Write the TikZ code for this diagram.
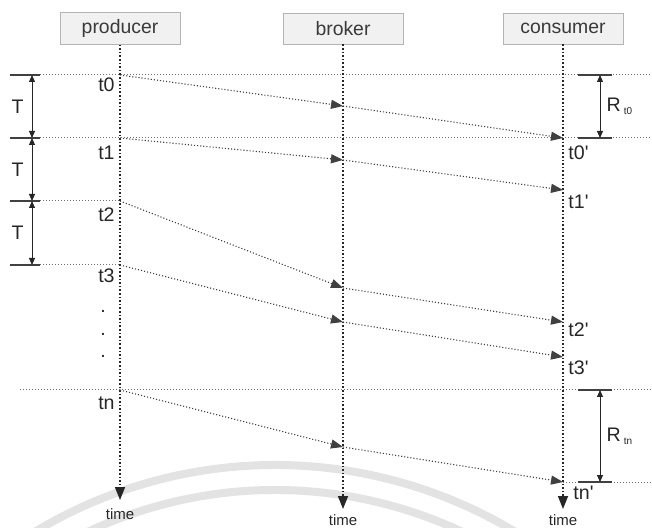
\documentclass[tikz,border=0pt]{standalone}
\usepackage{fontspec}
\setmainfont{Liberation Sans}
\usetikzlibrary{arrows.meta, positioning}
\definecolor{boxfill}{HTML}{F1F1F1}
\definecolor{boxline}{HTML}{B4B4B4}
\definecolor{inkgray}{HTML}{3A3A3A}
\tikzstyle{actor} = [rectangle, minimum width=60pt, minimum height=15.5pt, draw=boxline, fill=boxfill, text=inkgray, font=\fontsize{9.7}{11}\selectfont]
\tikzstyle{lifeline} = [densely dotted, line width=0.8pt, black!85, -{Triangle[length=6.5pt,width=5pt]}]
\tikzstyle{msg} = [densely dotted, line width=0.55pt, black!75, -{Triangle[length=6pt,width=4.5pt]}]
\tikzstyle{guide} = [densely dotted, line width=0.5pt, black!55]
\tikzstyle{tickline} = [line width=0.6pt, black!75]
\tikzstyle{span} = [line width=0.5pt, black!85, {Triangle[length=3.5pt,width=3pt]}-{Triangle[length=3.5pt,width=3pt]}]
\tikzstyle{stamp} = [font=\fontsize{9.8}{11}\selectfont, text=black!85, inner sep=0pt]
\tikzstyle{timelabel} = [font=\fontsize{7.5}{8}\selectfont, text=black!85, inner sep=0pt]
\tikzstyle{watermark} = [line width=4pt, gray!22]
\newcommand\subtext[1]{\,\raisebox{-1.5pt}{\fontsize{5}{6}\selectfont #1}}
\newcommand\pr{\textquotesingle}

\begin{document}
\begin{tikzpicture}[x=0.5pt, y=-0.5pt]
\useasboundingbox (0,0) rectangle (652,528);

% Watermark arcs
\begin{scope}
\clip (0,0) rectangle (652,528);
\draw [watermark] (137.5pt,-465pt) ++(40:232.5pt) arc (40:140:232.5pt);
\draw [watermark] (137.5pt,-465pt) ++(40:220pt) arc (40:140:220pt);
\end{scope}

% Placement of nodes
\node (producer) [actor] at (120,28.5) {producer};
\node (broker) [actor] at (343,28.5) {broker};
\node (consumer) [actor] at (563,28.5) {consumer};

\coordinate (leftEdge) at (10,0);
\coordinate (rightEdge) at (652,0);
\coordinate (dimL) at (32,0);
\coordinate (dimR) at (600,0);
\coordinate (tickR) at (578,0);

% Message points on the lifelines
\coordinate (p0) at (120,75);  \coordinate (b0) at (343,106); \coordinate (c0) at (563,138);
\coordinate (p1) at (120,138); \coordinate (b1) at (343,160); \coordinate (c1) at (563,190);
\coordinate (p2) at (120,201); \coordinate (b2) at (343,288); \coordinate (c2) at (563,322);
\coordinate (p3) at (120,265); \coordinate (b3) at (343,322); \coordinate (c3) at (563,357);
\coordinate (pn) at (120,390); \coordinate (bn) at (343,447); \coordinate (cn) at (563,482);

\coordinate (pEnd) at (120,500);
\coordinate (bEnd) at (343,509);
\coordinate (cEnd) at (563,509);

% Guide lines
\draw [guide] (leftEdge |- p0) -- (rightEdge |- p0);
\draw [guide] (leftEdge |- p1) -- (rightEdge |- p1);
\draw [guide] (leftEdge |- p2) -- (p2);
\draw [guide] (leftEdge |- p3) -- (p3);
\draw [guide] ([xshift=5pt]leftEdge |- pn) -- (rightEdge |- pn);
\draw [guide] (cn) -- (rightEdge |- cn);

% Lifelines
\draw [lifeline] (producer.south) -- (pEnd);
\draw [lifeline] (broker.south) -- (bEnd);
\draw [lifeline] (consumer.south) -- (cEnd);
\node (pTime) [timelabel] at (120,514) {time};
\node (bTime) [timelabel] at (343,520) {time};
\node (cTime) [timelabel] at (563,520) {time};

% Messages
\draw [msg] (p0) -- (b0);
\draw [msg] (b0) -- (c0);
\draw [msg] (p1) -- (b1);
\draw [msg] (b1) -- (c1);
\draw [msg] (p2) -- (b2);
\draw [msg] (b2) -- (c2);
\draw [msg] (p3) -- (b3);
\draw [msg] (b3) -- (c3);
\draw [msg] (pn) -- (bn);
\draw [msg] (bn) -- (cn);

% Time stamps
\node (t0) [stamp, anchor=east] at (115,85) {t0};
\node (t1) [stamp, anchor=east] at (115,153) {t1};
\node (t2) [stamp, anchor=east] at (115,215) {t2};
\node (t3) [stamp, anchor=east] at (115,276) {t3};
\node (dotA) [stamp] at (103,311) {.};
\node (dotB) [stamp] at (103,334) {.};
\node (dotC) [stamp] at (103,356) {.};
\node (tn) [stamp, anchor=east] at (115,403) {tn};
\node (t0r) [stamp, anchor=west] at (568,153) {t0\pr};
\node (t1r) [stamp, anchor=west] at (568,202) {t1\pr};
\node (t2r) [stamp, anchor=west] at (568,330) {t2\pr};
\node (t3r) [stamp, anchor=west] at (568,368) {t3\pr};
\node (tnr) [stamp, anchor=west] at (573,493) {tn\pr};

% Period T
\draw [tickline] (leftEdge |- p0) -- ++(30,0);
\draw [tickline] (leftEdge |- p1) -- ++(30,0);
\draw [tickline] (leftEdge |- p2) -- ++(30,0);
\draw [tickline] (leftEdge |- p3) -- ++(30,0);
\draw [span] (dimL |- p0) -- node[stamp, left=4pt] (T0) {T} (dimL |- p1);
\draw [span] (dimL |- p1) -- node[stamp, left=4pt] (T1) {T} (dimL |- p2);
\draw [span] (dimL |- p2) -- node[stamp, left=4pt] (T2) {T} (dimL |- p3);

% Response times
\draw [tickline] (tickR |- p0) -- ++(34,0);
\draw [tickline] (tickR |- c0) -- ++(34,0);
\draw [tickline] (tickR |- pn) -- ++(34,0);
\draw [tickline] (tickR |- cn) -- ++(34,0);
\draw [span] (dimR |- p0) -- node[stamp, right=3pt] (R0) {R\subtext{t0}} (dimR |- c0);
\draw [span] (dimR |- pn) -- node[stamp, right=3pt] (Rn) {R\subtext{tn}} (dimR |- cn);

\end{tikzpicture}
\end{document}
